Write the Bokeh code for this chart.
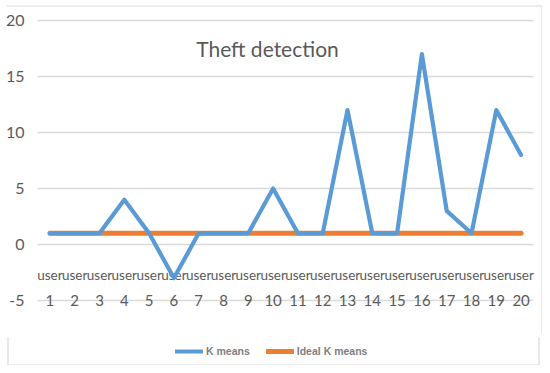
from bokeh.plotting import figure
from bokeh.models import ColumnDataSource, Range1d, Label, Legend, LegendItem
from bokeh.core.properties import value
from bokeh.embed import file_html
from bokeh.resources import INLINE

# ---- data ----
users = list(range(1, 21))
user_labels = ["user"] * 20
user_numbers = [str(u) for u in users]
k_means = [1, 1, 1, 4, 1, -3, 1, 1, 1, 5, 1, 1, 12, 1, 1, 17, 3, 1, 12, 8]
ideal_k_means = [1] * 20
y_ticks = [-5, 0, 5, 10, 15, 20]
y_tick_labels = [str(t) for t in y_ticks]
title_text = "Theft detection"

FONT = "Lato"
TXT = "#595959"
GRID = "#d9d9d9"
BLUE = "#5b9bd5"
ORANGE = "#ed7d31"

# ---- layout (canvas pixels) ----
W, H = 542, 365
PL, PR, PT, PB = 37, 533, 20, 300   # plot area: left, right, top gridline, lowest gridline
x0, x1 = users[0] - 0.5, users[-1] + 0.5
y0, y1 = y_ticks[0], y_ticks[-1]
sx = (PR - PL) / (x1 - x0)
sy = (PB - PT) / (y1 - y0)
xr = Range1d(x0 - PL / sx, x1 + (W - PR) / sx)
yr = Range1d(y0 - (H - PB) / sy, y1 + PT / sy)


def px(f):
    return xr.start + f / sx


def py(g):
    return yr.end - g / sy


src = ColumnDataSource(dict(x=users, k=k_means, ideal=ideal_k_means,
                            lab=user_labels, num=user_numbers,
                            ylab=[y0 + 2.3] * 20, ynum=[y0] * 20))
ticks = ColumnDataSource(dict(y=y_ticks, lab=y_tick_labels,
                              xa=[x0] * len(y_ticks), xb=[x1] * len(y_ticks),
                              xl=[x0 - 13 / sx] * len(y_ticks)))

p = figure(width=W, height=H, output_backend="svg", toolbar_location=None,
           x_range=xr, y_range=yr, x_axis_location=None, y_axis_location=None,
           min_border=0)
p.grid.visible = False
p.outline_line_color = None
p.background_fill_color = "white"
p.border_fill_color = "white"

# chart frame and legend box outlines
p.multi_line(xs=[[px(6), px(541.5), px(541.5)],
                 [px(7.5), px(7.5), px(538.5), px(538.5)]],
             ys=[[py(5.5), py(5.5), py(333)],
                 [py(337), py(364.5), py(364.5), py(337)]],
             line_color=GRID, line_width=1.2)

# gridlines and value labels
p.segment(x0="xa", x1="xb", y0="y", y1="y", source=ticks,
          line_color=GRID, line_width=1.3)
p.text(x="xl", y="y", text="lab", source=ticks, text_align="right",
       text_baseline="middle", text_font=value(FONT), text_font_size="16px",
       text_color=TXT)

# category labels
p.text(x="x", y="ylab", text="lab", source=src, text_align="center",
       text_baseline="middle", text_font=value(FONT), text_font_size="13.5px",
       text_color=TXT)
p.text(x="x", y="ynum", text="num", source=src, text_align="center",
       text_baseline="middle", text_font=value(FONT), text_font_size="15px",
       text_color=TXT)

r_ideal = p.line(x="x", y="ideal", source=src, line_color=ORANGE, line_width=5,
                 line_cap="round")
r_k = p.line(x="x", y="k", source=src, line_color=BLUE, line_width=4.2,
             line_join="round", line_cap="round")

p.add_layout(Label(x=px(267), y=py(48), text=title_text,
                   text_align="center", text_baseline="middle",
                   text_font=FONT, text_font_size="21px", text_color=TXT))

leg = Legend(items=[LegendItem(label="K means", renderers=[r_k]),
                    LegendItem(label="Ideal K means", renderers=[r_ideal])],
             orientation="horizontal", location=(175, 8),
             border_line_color=None, background_fill_alpha=0,
             glyph_width=28, glyph_height=10, label_standoff=3, spacing=16,
             padding=0, margin=0,
             label_text_font="Liberation Sans", label_text_font_style="bold",
             label_text_font_size="10.5px", label_text_color="#7f7f7f")
p.add_layout(leg, "center")

open("out.html", "w").write(file_html(p, INLINE))
